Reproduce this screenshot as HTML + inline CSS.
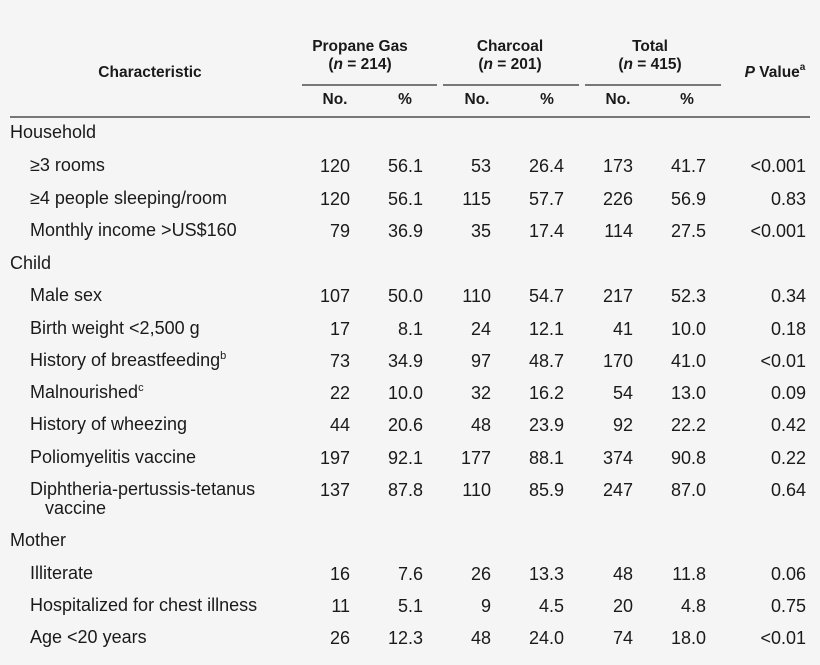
<!DOCTYPE html>
<html><head><meta charset="utf-8"><style>
body{margin:0;width:820px;height:665px;background:#f5f5f5;position:relative;overflow:hidden;font-family:"Liberation Sans",Arial,sans-serif;color:#1a1a1a}
.t{position:absolute;font-size:18px;white-space:nowrap;line-height:20px}
.r{text-align:right}
.h{position:absolute;font-size:15.5px;font-weight:bold;white-space:nowrap;text-align:center;line-height:18px}
.l{position:absolute;height:1.5px;background:#777}
sup{font-size:11px;line-height:0;vertical-align:0;position:relative;top:-7px}
</style></head><body>
<div class="h" style="left:60px;width:180px;top:64px">Characteristic</div>
<div class="h" style="left:290px;width:140px;top:38px">Propane Gas<br>(<i>n</i> = 214)</div>
<div class="h" style="left:440px;width:140px;top:38px">Charcoal<br>(<i>n</i> = 201)</div>
<div class="h" style="left:580px;width:140px;top:38px">Total<br>(<i>n</i> = 415)</div>
<div class="h" style="left:730px;width:90px;top:64px"><i>P</i> Value<sup style="font-size:10px">a</sup></div>
<div class="l" style="left:302px;width:135px;top:84px"></div>
<div class="l" style="left:443px;width:136px;top:84px"></div>
<div class="l" style="left:585px;width:136px;top:84px"></div>
<div class="h" style="left:310px;width:50px;top:91px">No.</div>
<div class="h" style="left:380px;width:50px;top:91px">%</div>
<div class="h" style="left:452px;width:50px;top:91px">No.</div>
<div class="h" style="left:522px;width:50px;top:91px">%</div>
<div class="h" style="left:593px;width:50px;top:91px">No.</div>
<div class="h" style="left:662px;width:50px;top:91px">%</div>
<div class="l" style="left:10px;width:800px;top:116px"></div>
<div id="rows"></div>
<script>
var R=[
["Household",133,0],
["\u22653 rooms",166,1,"120","56.1","53","26.4","173","41.7","<0.001"],
["\u22654 people sleeping/room",199,1,"120","56.1","115","57.7","226","56.9","0.83"],
["Monthly income &gt;US$160",231,1,"79","36.9","35","17.4","114","27.5","<0.001"],
["Child",264,0],
["Male sex",296,1,"107","50.0","110","54.7","217","52.3","0.34"],
["Birth weight &lt;2,500 g",329,1,"17","8.1","24","12.1","41","10.0","0.18"],
["History of breastfeeding<sup>b</sup>",361,1,"73","34.9","97","48.7","170","41.0","<0.01"],
["Malnourished<sup>c</sup>",393,1,"22","10.0","32","16.2","54","13.0","0.09"],
["History of wheezing",425,1,"44","20.6","48","23.9","92","22.2","0.42"],
["Poliomyelitis vaccine",458,1,"197","92.1","177","88.1","374","90.8","0.22"],
["Diphtheria-pertussis-tetanus<br>&nbsp;&nbsp;&nbsp;vaccine",490,1,"137","87.8","110","85.9","247","87.0","0.64"],
["Mother",541,0],
["Illiterate",574,1,"16","7.6","26","13.3","48","11.8","0.06"],
["Hospitalized for chest illness",606,1,"11","5.1","9","4.5","20","4.8","0.75"],
["Age &lt;20 years",638,1,"26","12.3","48","24.0","74","18.0","<0.01"]];
var X=[350,423,491,564,633,706,806],h="";
R.forEach(function(r){var y=r[1]-10;
h+='<div class="t" style="left:'+(r[2]?30:10)+'px;top:'+y+'px;line-height:19px">'+r[0]+'</div>';
for(var i=0;i<7&&r[3+i]!==undefined;i++){h+='<div class="t r" style="left:'+(X[i]-100)+'px;width:100px;top:'+y+'px">'+r[3+i].replace("<","&lt;")+'</div>';}
});
document.getElementById("rows").innerHTML=h;
</script>
</body></html>
